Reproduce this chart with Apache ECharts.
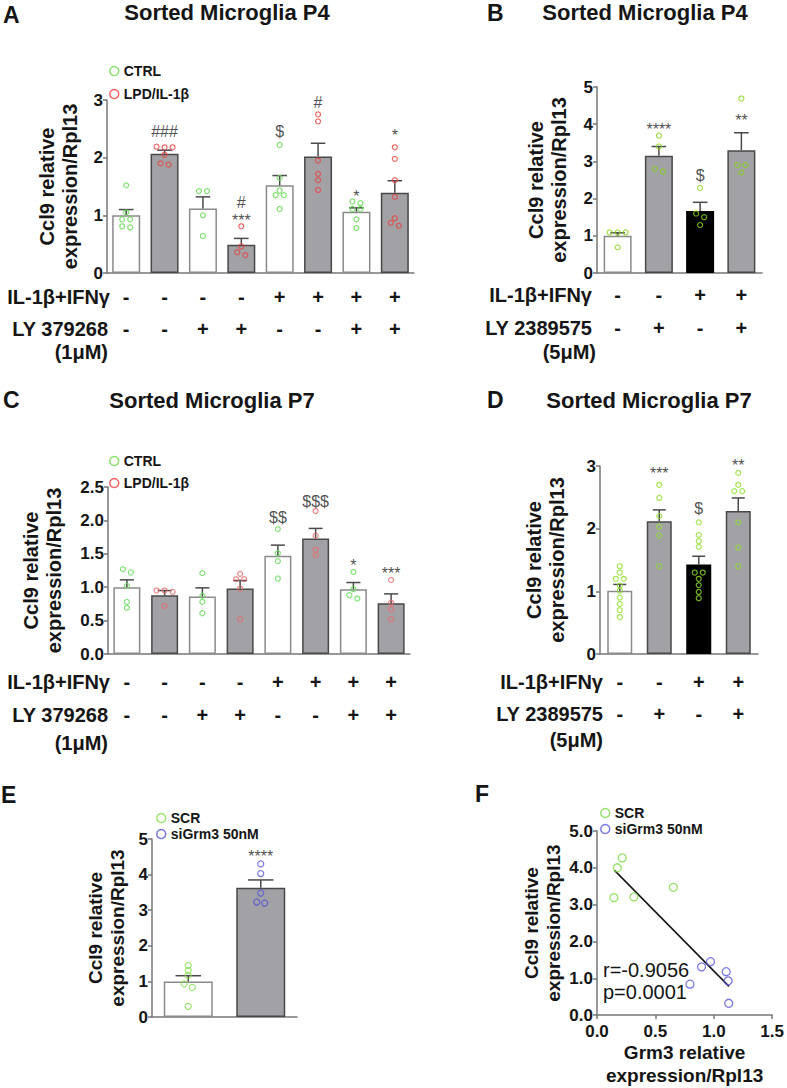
<!DOCTYPE html>
<html><head><meta charset="utf-8">
<script src="https://cdn.jsdelivr.net/npm/echarts@6/dist/echarts.min.js"></script>
<style>html,body{margin:0;padding:0;background:#fff}#c{width:787px;height:1088px}</style>
</head><body><div id="c"></div>
<script>
// ================= DATA =================
// Panel A  (Sorted Microglia P4, LY 379268)
const aGroups = ['CTRL','LPD/IL-1β','CTRL','LPD/IL-1β','CTRL','LPD/IL-1β','CTRL','LPD/IL-1β'];
const aIL = ['-','-','-','-','+','+','+','+'];
const aLY = ['-','-','+','+','-','-','+','+'];
const aMean = [1.00, 2.07, 1.12, 0.49, 1.52, 2.02, 1.06, 1.39];
const aSem  = [0.10, 0.06, 0.20, 0.11, 0.17, 0.23, 0.07, 0.21];
const aPoints = [
  [1.52, 1.05, 0.93, 0.93, 0.81, 0.79],
  [2.19, 2.18, 2.18, 2.05, 1.90, 1.88],
  [1.42, 1.42, 1.00, 0.64],
  [0.81, 0.46, 0.36, 0.31],
  [2.22, 1.65, 1.43, 1.35, 1.35, 1.11],
  [2.75, 2.63, 1.95, 1.72, 1.61, 1.44],
  [1.24, 1.21, 1.11, 1.11, 0.93, 0.78],
  [2.18, 1.98, 1.61, 1.32, 0.95, 0.87, 0.82]
];
const aSig = [
  {i:1, t:'###', y:2.45}, {i:3, t:'#', y:1.22}, {i:3, t:'***', y:0.91},
  {i:4, t:'$', y:2.45}, {i:5, t:'#', y:2.95}, {i:6, t:'*', y:1.33}, {i:7, t:'*', y:2.38}
];

// Panel B  (Sorted Microglia P4, LY 2389575)
const bIL = ['-','-','+','+'];
const bLY = ['-','+','-','+'];
const bMean = [1.00, 3.15, 1.67, 3.30];
const bSem  = [0.08, 0.25, 0.23, 0.47];
const bPoints = [
  [1.09, 1.09, 1.09, 0.69],
  [3.69, 3.40, 2.80, 2.73],
  [2.29, 1.60, 1.50, 1.29],
  [4.69, 2.90, 2.90, 2.70]
];
const bSig = [{i:1, t:'****', y:3.85}, {i:2, t:'$', y:2.61}, {i:3, t:'**', y:4.11}];

// Panel C  (Sorted Microglia P7, LY 379268)
const cGroups = aGroups;
const cIL = ['-','-','-','-','+','+','+','+'];
const cLY = ['-','-','+','+','-','-','+','+'];
const cMean = [1.00, 0.88, 0.86, 0.98, 1.47, 1.73, 0.97, 0.76];
const cSem  = [0.11, 0.07, 0.13, 0.12, 0.16, 0.15, 0.10, 0.14];
const cPoints = [
  [1.27, 1.22, 1.02, 0.78, 0.69],
  [0.95, 0.95, 0.93, 0.72],
  [1.21, 0.87, 0.78, 0.61],
  [1.20, 1.12, 1.12, 0.98, 0.52],
  [1.87, 1.51, 1.39, 1.13],
  [2.14, 1.77, 1.56, 1.48],
  [1.23, 0.97, 0.88, 0.83],
  [1.11, 0.77, 0.67, 0.52]
];
const cSig = [{i:4, t:'$$', y:2.05}, {i:5, t:'$$$', y:2.29}, {i:6, t:'*', y:1.32}, {i:7, t:'***', y:1.21}];

// Panel D  (Sorted Microglia P7, LY 2389575)
const dIL = ['-','-','+','+'];
const dLY = ['-','+','-','+'];
const dMean = [1.01, 2.12, 1.43, 2.28];
const dSem  = [0.10, 0.18, 0.13, 0.21];
const dPoints = [
  [1.40, 1.30, 1.20, 1.20, 1.09, 1.01, 0.90, 0.80, 0.70, 0.59],
  [2.70, 2.49, 2.20, 2.03, 1.89, 1.40],
  [2.10, 1.90, 1.80, 1.71, 1.30, 1.30, 1.20, 1.10, 0.99, 0.89],
  [2.89, 2.70, 2.60, 2.60, 2.10, 1.70, 1.40]
];
const dSig = [{i:1, t:'***', y:2.88}, {i:2, t:'$', y:2.32}, {i:3, t:'**', y:3.01}];

// Panel E  (siGrm3)
const eGroups = ['SCR', 'siGrm3 50nM'];
const eMean = [1.00, 3.63];
const eSem  = [0.16, 0.22];
const ePoints = [
  [1.45, 1.31, 1.17, 0.93, 0.83, 0.30],
  [4.30, 4.03, 3.48, 3.23, 3.20]
];
const eSig = [{i:1, t:'****', y:4.50}];

// Panel F  (correlation)
const fScr = [[0.145, 3.19], [0.174, 4.00], [0.216, 4.27], [0.316, 3.21], [0.654, 3.47]];
const fSi  = [[0.796, 0.84], [0.895, 1.31], [0.972, 1.45], [1.106, 1.18], [1.123, 0.93], [1.128, 0.32]];
const fLine = [[0.15, 3.93], [1.13, 0.78]];
const fStats = ['r=-0.9056', 'p=0.0001'];

// ================= STYLE / LAYOUT =================
const FONT = "'Liberation Sans', Arial, Helvetica, sans-serif";
const TXT = '#151515';
const AX = '#777777';
const BAR_STYLE = {
  white: {color:'#ffffff', borderColor:'#8a8a8a', borderWidth:1.5},
  gray:  {color:'#a1a1a6', borderColor:'#484848', borderWidth:1.5},
  black: {color:'#000000', borderColor:'#000000', borderWidth:1.5}
};
const YNAME = 'Ccl9 relative\nexpression/Rpl13';

function swarm(vals, pxPerUnit) {
  const idx = vals.map((v, i) => i).sort((a, b) => vals[b] - vals[a]);
  const off = new Array(vals.length).fill(0);
  let i = 0;
  while (i < idx.length) {
    const start = vals[idx[i]];
    let j = i + 1;
    while (j < idx.length && (start - vals[idx[j]]) * pxPerUnit < 4) j++;
    const k = j - i;
    for (let m = 0; m < k; m++) off[idx[i + m]] = (m - (k - 1) / 2) * 8;
    i = j;
  }
  return off;
}
const comboFill = (il, ly) => i => (il[i] === '-' && ly[i] === '-') ? 'white' : (il[i] === '+' && ly[i] === '-') ? 'black' : 'gray';

const panels = [
  {grid:{left:107, top:100, width:307, height:173}, yMax:3, yInt:1, dec:0, barW:28, n:8,
   rows:[aIL, aLY], rowOff:[14, 46], mean:aMean, sem:aSem, pts:aPoints, sig:aSig,
   fill:i => aGroups[i] === 'CTRL' ? 'white' : 'gray', ptName:i => aGroups[i],
   ptColor:{'CTRL':'#62dc4e', 'LPD/IL-1β':'#e8443e'}, ptSize:5, nameGap:26, nameSize:20},
  {grid:{left:597, top:87, width:165, height:186}, yMax:5, yInt:1, dec:0, barW:28, n:4,
   rows:[bIL, bLY], rowOff:[12, 45], mean:bMean, sem:bSem, pts:bPoints, sig:bSig,
   fill:comboFill(bIL, bLY), ptName:() => 'B values', ptColor:{'B values':'#8bd61c'}, ptSize:5, nameGap:27, nameSize:20},
  {grid:{left:108, top:487, width:302, height:167}, yMax:2.5, yInt:0.5, dec:1, barW:27, n:8,
   rows:[cIL, cLY], rowOff:[18, 51], mean:cMean, sem:cSem, pts:cPoints, sig:cSig,
   fill:i => cGroups[i] === 'CTRL' ? 'white' : 'gray', ptName:i => cGroups[i],
   ptColor:{'CTRL':'#5fdc55', 'LPD/IL-1β':'#ee6a6a'}, ptSize:5, nameGap:43, nameSize:20},
  {grid:{left:600, top:466, width:158, height:188}, yMax:3, yInt:1, dec:0, barW:25, n:4,
   rows:[dIL, dLY], rowOff:[18, 50], mean:dMean, sem:dSem, pts:dPoints, sig:dSig,
   fill:comboFill(dIL, dLY), ptName:() => 'D values', ptColor:{'D values':'#8ee02a'}, ptSize:5, nameGap:32, nameSize:20},
  {grid:{left:152, top:839, width:145, height:178}, yMax:5, yInt:1, dec:0, barW:49, n:2,
   rows:[], rowOff:[], mean:eMean, sem:eSem, pts:ePoints, sig:eSig,
   fill:i => i === 0 ? 'white' : 'gray', ptName:i => eGroups[i],
   ptColor:{'SCR':'#86e04c', 'siGrm3 50nM':'#5454d8'}, ptSize:6, nameGap:24, nameSize:19}
];

const option = {
  animation:false, backgroundColor:'#ffffff', textStyle:{fontFamily:FONT},
  grid:[], xAxis:[], yAxis:[], series:[], legend:[], graphic:[]
};

const axisLabelStyle = {fontSize:17, fontWeight:'bold', color:TXT, fontFamily:FONT};

panels.forEach((p, gi) => {
  option.grid.push(Object.assign({containLabel:false}, p.grid));
  const xMain = option.xAxis.length;
  option.xAxis.push({type:'category', gridIndex:gi, data:p.mean.map((m, i) => 'g' + i),
    axisLine:{lineStyle:{color:AX, width:1.5}}, axisTick:{show:false}, axisLabel:{show:false}, splitLine:{show:false}});
  p.rows.forEach((row, ri) => {
    option.xAxis.push({type:'category', gridIndex:gi, data:row, position:'bottom', offset:p.rowOff[ri],
      axisLine:{show:false}, axisTick:{show:false},
      axisLabel:{interval:0, margin:0, fontSize:20, fontWeight:'bold', color:TXT, fontFamily:FONT}});
  });
  const yIdx = option.yAxis.length;
  option.yAxis.push({type:'value', gridIndex:gi, min:0, max:p.yMax, interval:p.yInt,
    name:YNAME, nameLocation:'middle', nameGap:p.nameGap, nameRotate:90,
    nameTextStyle:{fontSize:p.nameSize, fontWeight:'bold', lineHeight:p.nameSize + 3, color:TXT, fontFamily:FONT},
    axisLine:{show:true, lineStyle:{color:AX, width:1.5}},
    axisTick:{show:true, length:4, lineStyle:{color:AX, width:1.5}},
    axisLabel:Object.assign({margin:4, formatter:v => v.toFixed(p.dec)}, axisLabelStyle),
    splitLine:{show:false}});
  option.series.push({type:'bar', xAxisIndex:xMain, yAxisIndex:yIdx, barWidth:p.barW, z:2, silent:true,
    data:p.mean.map((m, i) => ({value:m, itemStyle:BAR_STYLE[p.fill(i)]}))});
  const capHalf = p.barW * 0.26;
  option.series.push({type:'custom', xAxisIndex:xMain, yAxisIndex:yIdx, z:3, silent:true,
    data:p.mean.map((m, i) => [i, m, p.sem[i]]),
    renderItem:(params, api) => {
      const x = api.value(0), m = api.value(1), s = api.value(2);
      const p0 = api.coord([x, m]), p1 = api.coord([x, m + s]);
      const st = {stroke:'#4a4a4a', lineWidth:1.5};
      return {type:'group', children:[
        {type:'line', shape:{x1:p0[0], y1:p0[1], x2:p1[0], y2:p1[1]}, style:st},
        {type:'line', shape:{x1:p1[0] - capHalf, y1:p1[1], x2:p1[0] + capHalf, y2:p1[1]}, style:st}
      ]};
    }});
  const pxPerUnit = p.grid.height / p.yMax;
  const byName = {};
  p.pts.forEach((vals, i) => {
    const offs = swarm(vals, pxPerUnit);
    const nm = p.ptName(i);
    if (!byName[nm]) byName[nm] = [];
    vals.forEach((v, k) => byName[nm].push({value:[i, v], symbolOffset:[offs[k], 0]}));
  });
  Object.keys(byName).forEach(nm => option.series.push({type:'scatter', name:nm, xAxisIndex:xMain, yAxisIndex:yIdx,
    data:byName[nm], symbol:'circle', symbolSize:p.ptSize, clip:false, silent:true, z:4,
    itemStyle:{color:'rgba(0,0,0,0)', borderColor:p.ptColor[nm], borderWidth:1.2}}));
  option.series.push({type:'scatter', xAxisIndex:xMain, yAxisIndex:yIdx, z:5, clip:false, silent:true,
    data:p.sig.map(s => [s.i, s.y]), symbol:'circle', symbolSize:1, itemStyle:{color:'rgba(0,0,0,0)'},
    label:{show:true, position:'inside', formatter:q => p.sig[q.dataIndex].t, fontSize:16, color:'#222', fontFamily:FONT}});
});

// ---- Panel F ----
const gF = option.grid.length;
option.grid.push({left:597, top:831, width:176, height:187, containLabel:false});
const xF = option.xAxis.length;
option.xAxis.push({type:'value', gridIndex:gF, min:0, max:1.5, interval:0.5,
  name:'Grm3 relative\nexpression/Rpl13', nameLocation:'middle', nameGap:23,
  nameTextStyle:{fontSize:19, fontWeight:'bold', lineHeight:23, color:TXT, fontFamily:FONT},
  axisLine:{show:true, onZero:false, lineStyle:{color:AX, width:1.5}},
  axisTick:{show:true, length:4, lineStyle:{color:AX, width:1.5}},
  axisLabel:Object.assign({margin:8, formatter:v => v.toFixed(1)}, axisLabelStyle), splitLine:{show:false}});
const yF = option.yAxis.length;
option.yAxis.push({type:'value', gridIndex:gF, min:0, max:5, interval:1,
  name:YNAME, nameLocation:'middle', nameGap:33, nameRotate:90,
  nameTextStyle:{fontSize:19, fontWeight:'bold', lineHeight:22, color:TXT, fontFamily:FONT},
  axisLine:{show:true, onZero:false, lineStyle:{color:AX, width:1.5}},
  axisTick:{show:true, length:4, lineStyle:{color:AX, width:1.5}},
  axisLabel:Object.assign({margin:4, formatter:v => v.toFixed(1)}, axisLabelStyle), splitLine:{show:false}});
option.series.push({type:'line', xAxisIndex:xF, yAxisIndex:yF, data:fLine, symbol:'none', silent:true, z:3,
  lineStyle:{color:'#111', width:1.5}});
option.series.push({type:'scatter', name:'SCR', xAxisIndex:xF, yAxisIndex:yF, data:fScr, symbol:'circle', symbolSize:8, z:4, silent:true,
  itemStyle:{color:'rgba(0,0,0,0)', borderColor:'#7ddc45', borderWidth:1.3}});
option.series.push({type:'scatter', name:'siGrm3 50nM', xAxisIndex:xF, yAxisIndex:yF, data:fSi, symbol:'circle', symbolSize:8, z:4, silent:true,
  itemStyle:{color:'rgba(0,0,0,0)', borderColor:'#5a5ae0', borderWidth:1.3}});

// ---- Legends ----
function legendItem(name, color) {
  return {name:name, icon:'circle', itemStyle:{color:'rgba(0,0,0,0)', borderColor:color, borderWidth:1.5}};
}
const legBase = {orient:'vertical', padding:0, itemWidth:9, itemHeight:9, selectedMode:false,
  textStyle:{fontSize:14, fontWeight:'bold', color:TXT, fontFamily:FONT, lineHeight:16}};
option.legend = [
  Object.assign({left:109, top:63, itemGap:7, data:[legendItem('CTRL', '#6bdc4a'), legendItem('LPD/IL-1β', '#ff3a3a')]}, legBase),
  Object.assign({left:109, top:453, itemGap:6, data:[legendItem('CTRL', '#6bdc4a'), legendItem('LPD/IL-1β', '#ff3a3a')]}, legBase),
  Object.assign({left:156, top:810, itemGap:0, data:[legendItem('SCR', '#86e04c'), legendItem('siGrm3 50nM', '#5454d8')]}, legBase),
  Object.assign({left:600, top:805, itemGap:0, data:[legendItem('SCR', '#7ddc45'), legendItem('siGrm3 50nM', '#5a5ae0')]}, legBase)
];

// ---- Text (titles, panel letters, row labels, stats) ----
function txt(x, y, text, size, weight, align) {
  return {type:'text', x:x, y:y, silent:true,
    style:{text:text, fill:TXT, fontSize:size, fontWeight:weight, fontFamily:FONT,
      align:align, verticalAlign:'middle', textAlign:align, textVerticalAlign:'middle'}};
}
option.graphic = [
  txt(3, 15, 'A', 23, 'bold', 'left'),
  txt(227, 12, 'Sorted Microglia P4', 22, 'bold', 'center'),
  txt(487, 13, 'B', 23, 'bold', 'left'),
  txt(645, 12, 'Sorted Microglia P4', 22, 'bold', 'center'),
  txt(3, 400, 'C', 23, 'bold', 'left'),
  txt(212, 400, 'Sorted Microglia P7', 22, 'bold', 'center'),
  txt(487, 400, 'D', 23, 'bold', 'left'),
  txt(649, 400, 'Sorted Microglia P7', 22, 'bold', 'center'),
  txt(1, 795, 'E', 23, 'bold', 'left'),
  txt(475, 794, 'F', 23, 'bold', 'left'),
  txt(110, 297, 'IL-1β+IFNγ', 20, 'bold', 'right'),
  txt(108, 329, 'LY 379268', 20, 'bold', 'right'),
  txt(108, 352, '(1μM)', 20, 'bold', 'right'),
  txt(592, 295, 'IL-1β+IFNγ', 20, 'bold', 'right'),
  txt(592, 328, 'LY 2389575', 20, 'bold', 'right'),
  txt(596, 352, '(5μM)', 20, 'bold', 'right'),
  txt(110, 682, 'IL-1β+IFNγ', 20, 'bold', 'right'),
  txt(108, 715, 'LY 379268', 20, 'bold', 'right'),
  txt(108, 743, '(1μM)', 20, 'bold', 'right'),
  txt(603, 682, 'IL-1β+IFNγ', 20, 'bold', 'right'),
  txt(603, 714, 'LY 2389575', 20, 'bold', 'right'),
  txt(603, 740, '(5μM)', 20, 'bold', 'right'),
  txt(603, 970, fStats[0], 20, 'normal', 'left'),
  txt(603, 992, fStats[1], 20, 'normal', 'left')
];

const chart = echarts.init(document.getElementById('c'), null, {renderer:'svg', width:787, height:1088});
chart.setOption(option);
</script>
</body></html>
